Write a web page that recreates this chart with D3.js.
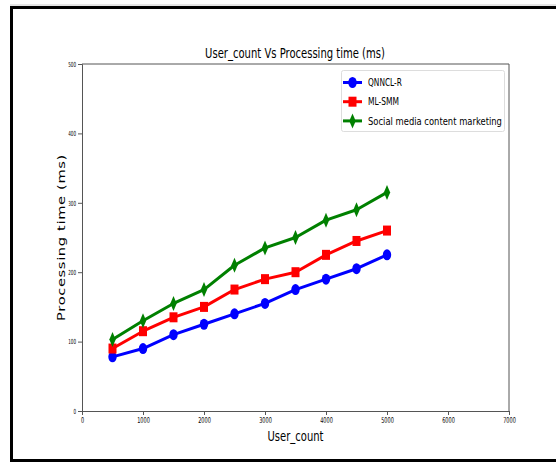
<!doctype html>
<meta charset="utf-8">
<style>
  body { margin: 0; background: #fff; }
  text { font-family: "DejaVu Sans", sans-serif; fill: #000; }
</style>
<script src="https://d3js.org/d3.v7.min.js"></script>
<body>
<svg id="chart"></svg>
<script>
// values
var userCount   = [500, 1000, 1500, 2000, 2500, 3000, 3500, 4000, 4500, 5000];
var qnnclR      = [78, 90, 110, 125, 140, 155, 175, 190, 205, 225];
var mlSmm       = [90, 115, 135, 150, 175, 190, 200, 225, 245, 260];
var socialMedia = [103, 130, 155, 175, 210, 235, 250, 275, 290, 315];
var seriesNames = ["QNNCL-R", "ML-SMM", "Social media content marketing"];
var xTicks = [0, 1000, 2000, 3000, 4000, 5000, 6000, 7000];
var yTicks = [0, 100, 200, 300, 400, 500];

var width = 556, height = 464;
var svg = d3.select("#chart").attr("width", width).attr("height", height);

svg.append("rect").attr("width", width).attr("height", height).attr("fill", "#fff");

// picture frame (left, top, bottom only - right edge is cut off)
var frame = svg.append("g").attr("stroke", "#000").attr("stroke-width", 3);
frame.append("line").attr("x1", 10).attr("x2", width).attr("y1", 7.5).attr("y2", 7.5);
frame.append("line").attr("x1", 11.5).attr("x2", 11.5).attr("y1", 6).attr("y2", 462);
frame.append("line").attr("x1", 10).attr("x2", width).attr("y1", 460.5).attr("y2", 460.5);
svg.append("line").attr("x1", 10).attr("x2", width).attr("y1", 5).attr("y2", 5)
   .attr("stroke", "#ccc").attr("stroke-width", 1);

var plot = { left: 82, right: 509, top: 64, bottom: 411 };

var x = d3.scaleLinear().domain([0, 7000]).range([plot.left, plot.right]);
var y = d3.scaleLinear().domain([0, 500]).range([plot.bottom, plot.top]);

// squeeze text so it fits the length seen in the picture
function squeeze(sel, cx, cy, target, rotated) {
  var node = sel.node();
  var k = target / node.getComputedTextLength();
  if (rotated) {
    sel.attr("transform", "translate(" + cx + "," + cy + ") scale(0.85," + k + ") rotate(-90)");
  } else {
    sel.attr("transform", "translate(" + cx + "," + cy + ") scale(" + k + ",1)");
  }
}

// axes
var axisColor = "#555";
var gx = svg.append("g").attr("transform", "translate(0," + plot.bottom + ")")
  .call(d3.axisBottom(x).tickValues(xTicks).tickSize(4).tickFormat(d3.format("d")));
var gy = svg.append("g").attr("transform", "translate(" + plot.left + ",0)")
  .call(d3.axisLeft(y).tickValues(yTicks).tickSize(4).tickFormat(d3.format("d")));

[gx, gy].forEach(function(g) {
  g.select(".domain").attr("stroke", axisColor);
  g.selectAll(".tick line").attr("stroke", axisColor);
  g.selectAll(".tick text").attr("font-family", null).attr("fill", "#444");
});
gx.selectAll(".tick text").attr("font-size", 8).attr("y", 6)
  .attr("transform", "scale(0.62,1)")
  .attr("x", 0);
gy.selectAll(".tick text").attr("font-size", 7).attr("x", 0)
  .attr("transform", "translate(-6,0) scale(0.58,1)");

// top and right spines
svg.append("line").attr("x1", plot.left).attr("x2", plot.right).attr("y1", plot.top).attr("y2", plot.top)
  .attr("stroke", axisColor);
svg.append("line").attr("x1", plot.right).attr("x2", plot.right).attr("y1", plot.top).attr("y2", plot.bottom)
  .attr("stroke", axisColor);

// titles
var title = svg.append("text").attr("text-anchor", "middle").attr("font-size", 13.5)
  .text("User_count Vs Processing time (ms)");
squeeze(title, 295, 58, 180);

var xLabel = svg.append("text").attr("text-anchor", "middle").attr("font-size", 14.5)
  .text("User_count");
squeeze(xLabel, 295.5, 441, 56);

var yLabel = svg.append("text").attr("text-anchor", "middle").attr("font-size", 13)
  .attr("letter-spacing", 0.6)
  .text("Processing time (ms)");
squeeze(yLabel, 65, 237.5, 167, true);

// marker shapes
function circleMark(g) { g.append("ellipse").attr("rx", 4.2).attr("ry", 5.5); }
function squareMark(g) { g.append("rect").attr("x", -4).attr("y", -5).attr("width", 8).attr("height", 10); }
function diamondMark(g) { g.append("path").attr("d", "M0,-7.5L3.2,0L0,7.5L-3.2,0Z"); }

var series = [
  { name: seriesNames[0], values: qnnclR, color: "#0000ff", mark: circleMark },
  { name: seriesNames[1], values: mlSmm, color: "#ff0000", mark: squareMark },
  { name: seriesNames[2], values: socialMedia, color: "#008000", mark: diamondMark }
];

var line = d3.line()
  .x(function(d, i) { return x(userCount[i]); })
  .y(function(d) { return y(d); });

series.forEach(function(s) {
  var g = svg.append("g");
  g.append("path").attr("d", line(s.values))
    .attr("fill", "none").attr("stroke", s.color).attr("stroke-width", 3)
    .attr("stroke-linejoin", "round");
  s.values.forEach(function(v, i) {
    var m = g.append("g").attr("transform", "translate(" + x(userCount[i]) + "," + y(v) + ")")
      .attr("fill", s.color);
    s.mark(m);
  });
});

// legend
var legend = svg.append("g");
legend.append("rect").attr("x", 341.5).attr("y", 70.5).attr("width", 163).attr("height", 61)
  .attr("rx", 2).attr("fill", "#fff").attr("stroke", "#ddd");
series.forEach(function(s, i) {
  var ly = 82.5 + i * 19.2;
  var row = legend.append("g");
  row.append("line").attr("x1", 343).attr("x2", 362).attr("y1", ly).attr("y2", ly)
    .attr("stroke", s.color).attr("stroke-width", 3);
  var m = row.append("g").attr("transform", "translate(352.5," + ly + ")").attr("fill", s.color);
  s.mark(m);
  var t = row.append("text").attr("font-size", 10.5).attr("dy", "0.35em").text(s.name);
  var k = (s.name.length > 20 ? 134 : (i === 0 ? 34 : 31)) / t.node().getComputedTextLength();
  t.attr("transform", "translate(368," + ly + ") scale(" + k + ",1)");
});
</script>
</body>
